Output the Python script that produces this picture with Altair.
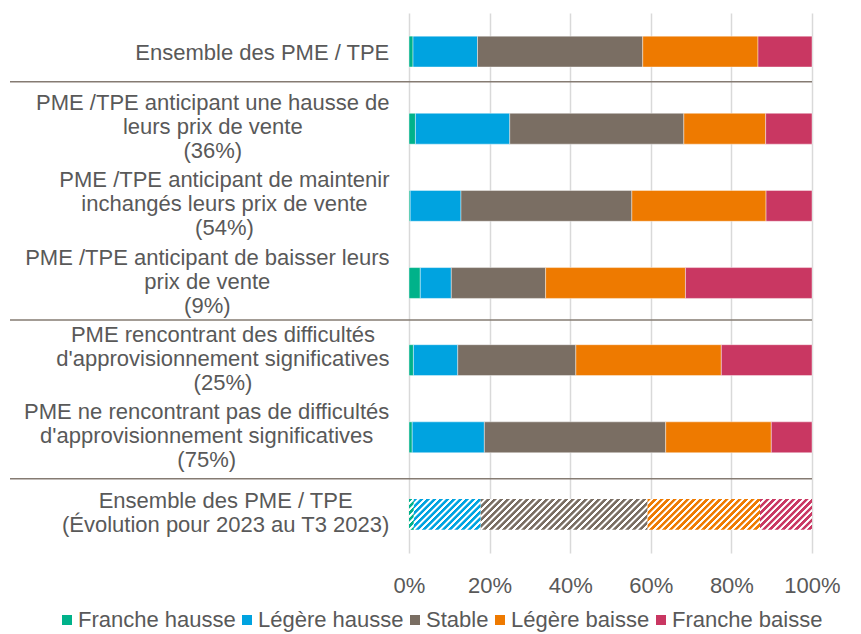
import altair as alt
import pandas as pd

categories = ["Franche hausse", "Légère hausse", "Stable", "Légère baisse", "Franche baisse"]
colors = ["#00B28A", "#00A3E0", "#7A6E63", "#EE7A00", "#C93762"]

row_lines = [
    ["Ensemble des PME / TPE"],
    ["PME /TPE anticipant une hausse de", "leurs prix de vente", "(36%)"],
    ["PME /TPE anticipant de maintenir", "inchangés leurs prix de vente", "(54%)"],
    ["PME /TPE anticipant de baisser leurs", "prix de vente", "(9%)"],
    ["PME rencontrant des difficultés", "d'approvisionnement significatives", "(25%)"],
    ["PME ne rencontrant pas de difficultés", "d'approvisionnement significatives", "(75%)"],
    ["Ensemble des PME / TPE", "(Évolution pour 2023 au T3 2023)"],
]
rows = [" ".join(l) for l in row_lines]

franche_hausse = [1.0, 1.6, 0.3, 2.8, 1.1, 0.8, 1.2]
legere_hausse = [16.0, 23.4, 12.6, 7.7, 11.0, 17.9, 16.6]
stable = [41.0, 43.2, 42.4, 23.4, 29.3, 45.0, 41.4]
legere_baisse = [28.6, 20.3, 33.3, 34.7, 36.1, 26.2, 27.9]
franche_baisse = [13.4, 11.5, 11.4, 31.4, 22.5, 10.1, 12.9]
series = [franche_hausse, legere_hausse, stable, legere_baisse, franche_baisse]

hatched_row = rows[6]
separator_after = [0, 3, 5]          # separators drawn below these rows
separator_shift = [-8.4, -1.6, 2.8]  # fine style adjustment in px

tick_values = [0, 20, 40, 60, 80, 100]

# ---------------- layout ----------------
W, H = 403, 540
n_rows = len(rows)
step = H / n_rows
pad_inner = 0.6
bandwidth = step * (1 - pad_inner)
FONT = "Liberation Sans, Arial, sans-serif"
TXT = "#595959"
FS = 22
LH = 24

records = []
for i, r in enumerate(rows):
    for j, c in enumerate(categories):
        records.append({"row": r, "cat": c, "order": j, "value": series[j][i]})
df = pd.DataFrame(records)

yscale = alt.Scale(domain=rows, paddingInner=pad_inner, paddingOuter=pad_inner / 2)
y_enc = alt.Y("row:N", scale=yscale, axis=None)
x_enc = alt.X(
    "x0:Q",
    scale=alt.Scale(domain=[0, 100], nice=False),
    title=None,
    axis=alt.Axis(
        values=tick_values, labelExpr="datum.value + '%'", ticks=False, domain=False,
        grid=True, gridColor="#D9D9D9", gridWidth=1.5, labelFont=FONT,
        labelFontSize=FS, labelColor=TXT, labelPadding=22, labelFlush=False,
    ),
)

base = alt.Chart(df).transform_window(
    x1="sum(value)", groupby=["row"], sort=[alt.SortField("order")], frame=[None, 0]
).transform_calculate(x0="datum.x1 - datum.value")

solid = base.transform_filter(alt.datum.row != hatched_row).mark_bar(
    stroke="white", strokeWidth=0.7, strokeOpacity=0.6
).encode(
    x=x_enc, x2="x1:Q", y=y_enc,
    color=alt.Color(
        "cat:N", scale=alt.Scale(domain=categories, range=colors),
        legend=alt.Legend(
            orient="none", legendX=-353, legendY=596, direction="horizontal", title=None,
            symbolType="square", symbolSize=100, symbolStrokeWidth=0,
            labelFont=FONT, labelFontSize=FS, labelColor=TXT, labelOffset=0,
            columnPadding=0, labelLimit=300,
        ),
    ),
)


def hatch(color, w, h, period=6.5):
    L = w + h
    a = L * w / (w * w + h * h)
    b = a * h / w
    stops = []
    s = 0.0
    while s < L:
        for frac, c in [(0.0, color), (0.45, color), (0.58, "#FFFFFF"), (0.9, "#FFFFFF")]:
            off = (s + frac * period) / L
            if off <= 1:
                stops.append({"offset": round(off, 5), "color": c})
        s += period
    return {"gradient": "linear", "x1": 0, "y1": 0, "x2": round(a, 5), "y2": round(b, 5),
            "stops": stops}


hatched_layers = []
hi = rows.index(hatched_row)
for j, c in enumerate(categories):
    w = series[j][hi] / 100 * W
    hatched_layers.append(
        base.transform_filter((alt.datum.row == hatched_row) & (alt.datum.cat == c))
        .mark_bar(fill=hatch(colors[j], w, bandwidth))
        .encode(x=x_enc, x2="x1:Q", y=y_enc)
    )

# ---------------- labels ----------------
arial = {' ': 278, "'": 191, '(': 333, ')': 333, '%': 889, '/': 278, '.': 278, ',': 278, '-': 333,
         'A': 667, 'B': 667, 'C': 722, 'D': 722, 'E': 667, 'É': 667, 'F': 611, 'G': 778, 'H': 722,
         'I': 278, 'L': 556, 'M': 833, 'N': 722, 'O': 778, 'P': 667, 'R': 722, 'S': 667, 'T': 611,
         'a': 556, 'b': 556, 'c': 500, 'd': 556, 'e': 556, 'é': 556, 'è': 556, 'f': 278, 'g': 556,
         'h': 556, 'i': 222, 'j': 222, 'k': 500, 'l': 222, 'm': 833, 'n': 556, 'o': 556, 'p': 556,
         'q': 556, 'r': 333, 's': 500, 't': 278, 'u': 556, 'v': 500, 'w': 722, 'x': 500, 'y': 500,
         'z': 500}


def text_w(s):
    return sum(arial.get(ch, 556) for ch in s) * FS / 1000


label_layers = []
for r, lines in zip(rows, row_lines):
    maxw = max(text_w(l) for l in lines)
    cx = -19.5 - maxw / 2
    n = len(lines)
    dy = -(n - 1) * LH / 2 - (1.5 if n > 1 else -1.0)
    label_layers.append(
        alt.Chart(pd.DataFrame({"row": [r]})).mark_text(
            text=lines, align="center", baseline="middle", lineHeight=LH, dy=dy,
            font=FONT, fontSize=FS, color=TXT,
        ).encode(x=alt.value(cx), y=y_enc)
    )

sep_layers = []
for k, sh in zip(separator_after, separator_shift):
    ypx = (k + 1) * step + sh
    sep_layers.append(
        alt.Chart(pd.DataFrame({"k": [k]})).mark_rule(color="#857B72", strokeWidth=1.5).encode(
            x=alt.value(-399), x2=alt.value(W), y=alt.value(ypx)
        )
    )

chart = alt.layer(solid, *hatched_layers, *label_layers, *sep_layers).properties(
    width=W, height=H,
    autosize=alt.AutoSizeParams(type="none"),
    padding={"left": 401, "top": 5, "right": 40, "bottom": 90},
).configure_view(stroke=None)

chart.save("out.html", embed_options={"renderer": "svg", "actions": False})
